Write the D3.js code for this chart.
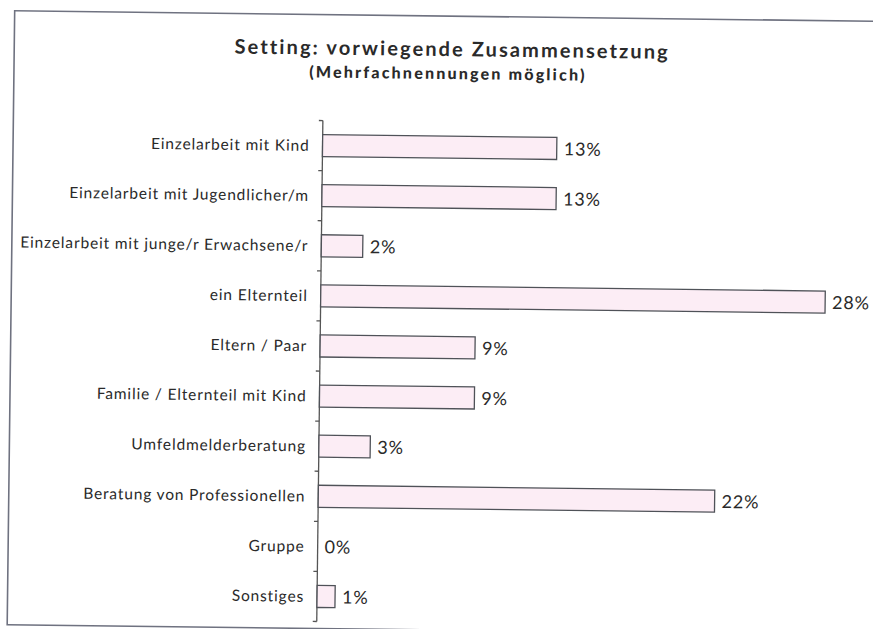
<!DOCTYPE html>
<html>
<head>
<meta charset="utf-8">
<script src="https://cdn.jsdelivr.net/npm/d3@7"></script>
<style>
  body { margin: 0; background: #fff; }
  svg { display: block; }
  text { font-family: Lato, "Open Sans", sans-serif; fill: #2a2a2a; }
</style>
</head>
<body>
<svg id="canvas" width="873" height="629"></svg>
<script>
let categories = [
    'Einzelarbeit mit Kind',
    'Einzelarbeit mit Jugendlicher/m',
    'Einzelarbeit mit junge/r Erwachsene/r',
    'ein Elternteil',
    'Eltern / Paar',
    'Familie / Elternteil mit Kind',
    'Umfeldmelderberatung',
    'Beratung von Professionellen',
    'Gruppe',
    'Sonstiges'
]
// shares in percent (labels show them rounded)
let values = [13, 13, 2.3, 28, 8.6, 8.6, 2.85, 22, 0, 1]
let titleText = 'Setting: vorwiegende Zusammensetzung'
let subtitleText = '(Mehrfachnennungen möglich)'

let canvas = d3.select('#canvas')

// the scan is a little tilted, so everything sits in one rotated group
let page = canvas.append('g')
        .attr('transform', 'rotate(0.7, 440, 315)')

// frame round the chart
page.append('rect')
        .attr('x', 11)
        .attr('y', 16)
        .attr('width', 880)
        .attr('height', 614)
        .attr('fill', 'none')
        .attr('stroke', '#6f7280')
        .attr('stroke-width', 1.6)

page.append('text')
        .attr('x', 449)
        .attr('y', 56)
        .attr('text-anchor', 'middle')
        .style('font-size', '20px')
        .style('font-weight', 'bold')
        .style('letter-spacing', '2.1px')
        .text(titleText)

page.append('text')
        .attr('x', 445)
        .attr('y', 79)
        .attr('text-anchor', 'middle')
        .style('font-size', '16px')
        .style('font-weight', '900')
        .style('letter-spacing', '2.2px')
        .text(subtitleText)

let x = d3.scaleLinear()
        .domain([0, 30])
        .range([320.5, 861])

let y = d3.scaleBand()
        .domain(categories)
        .range([122, 623])
        .paddingInner(0.56)
        .paddingOuter(0.28)

let step = y.step()
let top0 = y.range()[0]
let pct = d3.format('.0f')

// axis line with ticks between the categories
page.append('line')
        .attr('x1', x(0))
        .attr('x2', x(0))
        .attr('y1', top0)
        .attr('y2', y.range()[1])
        .attr('stroke', '#555')
        .attr('stroke-width', 1.3)

page.selectAll('.tick')
        .data(d3.range(categories.length + 1))
        .enter()
        .append('line')
        .attr('class', 'tick')
        .attr('x1', x(0) - 4)
        .attr('x2', x(0))
        .attr('y1', (i) => top0 + i * step)
        .attr('y2', (i) => top0 + i * step)
        .attr('stroke', '#555')
        .attr('stroke-width', 1.3)

page.selectAll('.bar')
        .data(categories)
        .enter()
        .append('rect')
        .attr('class', 'bar')
        .attr('x', x(0))
        .attr('y', (d) => y(d))
        .attr('width', (d, i) => x(values[i]) - x(0))
        .attr('height', y.bandwidth())
        .attr('fill', '#fcedf5')
        .attr('stroke', (d, i) => values[i] > 0 ? '#4f5258' : 'none')
        .attr('stroke-width', 1.3)

page.selectAll('.cat')
        .data(categories)
        .enter()
        .append('text')
        .attr('class', 'cat')
        .attr('x', x(0) - 13)
        .attr('y', (d) => y(d) + y.bandwidth() / 2)
        .attr('dy', '0.35em')
        .attr('text-anchor', 'end')
        .style('font-size', '15.5px')
        .style('letter-spacing', '0.85px')
        .text((d) => d)

page.selectAll('.val')
        .data(categories)
        .enter()
        .append('text')
        .attr('class', 'val')
        .attr('x', (d, i) => x(values[i]) + 7)
        .attr('y', (d) => y(d) + y.bandwidth() / 2)
        .attr('dy', '0.38em')
        .style('font-size', '18px')
        .style('letter-spacing', '0.8px')
        .text((d, i) => pct(values[i]) + '%')
</script>
</body>
</html>
